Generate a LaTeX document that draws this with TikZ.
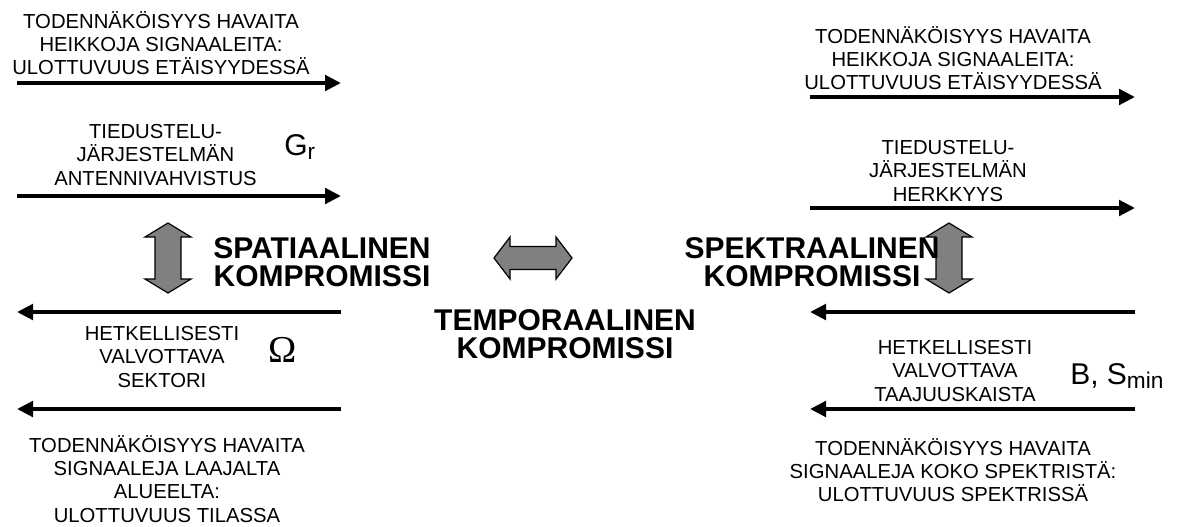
\documentclass[tikz,border=0pt]{standalone}
\usepackage{fontspec}
\setmainfont{Liberation Sans}
\newfontfamily\greekserif{Liberation Serif}
\usetikzlibrary{arrows.meta}
\begin{document}
\begin{tikzpicture}[x=0.75pt,y=-0.75pt,
  flow/.style={line width=3pt,-{Triangle[length=12pt,width=11.5pt]}},
  label/.style={inner sep=0pt,align=center,font=\fontsize{15.2}{17.4}\selectfont},
  title/.style={inner sep=0pt,align=center,font=\fontsize{22.5}{21}\selectfont\bfseries},
  symbol/.style={inner sep=0pt,anchor=base west,font=\fontsize{22.5}{24}\selectfont},
  tradeoff/.style={draw=black,line width=0.9pt,fill={rgb,255:red,128;green,128;blue,128},line join=miter}]
\useasboundingbox (0,0) rectangle (1178,526);

% ---- flow arrows ----
\coordinate (la1s) at (17,83);   \coordinate (la1e) at (341,83);
\coordinate (la2s) at (17,196);  \coordinate (la2e) at (341,196);
\coordinate (lb1s) at (341,312); \coordinate (lb1e) at (17,312);
\coordinate (lb2s) at (341,409); \coordinate (lb2e) at (17,409);
\coordinate (ra1s) at (810,97);  \coordinate (ra1e) at (1135,97);
\coordinate (ra2s) at (810,208); \coordinate (ra2e) at (1135,208);
\coordinate (rb1s) at (1135,312);\coordinate (rb1e) at (810,312);
\coordinate (rb2s) at (1135,409);\coordinate (rb2e) at (810,409);
\foreach \p in {la1,la2,lb1,lb2,ra1,ra2,rb1,rb2}
  \draw[flow] (\p s) -- (\p e);

% ---- grey trade-off arrows ----
% vertical, left
\draw[tradeoff] (168,223) -- (191,237) -- (181,237) -- (181,279) -- (191,279)
  -- (168,293) -- (145,279) -- (155,279) -- (155,237) -- (145,237) -- cycle;
% vertical, right
\draw[tradeoff] (949,223) -- (972,237) -- (962,237) -- (962,279) -- (972,279)
  -- (949,293) -- (926,279) -- (936,279) -- (936,237) -- (926,237) -- cycle;
% horizontal, middle
\draw[tradeoff] (494,258) -- (510,237) -- (510,246.5) -- (556,246.5) -- (556,237)
  -- (572,258) -- (556,279) -- (556,269.5) -- (510,269.5) -- (510,279) -- cycle;

% ---- texts ----
\node[label] (tl1) at (161,43) {TODENNÄKÖISYYS HAVAITA\\HEIKKOJA SIGNAALEITA:\\ULOTTUVUUS ETÄISYYDESSÄ};
\node[label] (tl2) at (155.5,155) {TIEDUSTELU-\\JÄRJESTELMÄN\\ANTENNIVAHVISTUS};
\node[symbol] (gr) at (284,155) {G\raisebox{-0.3ex}{\fontsize{17}{17}\selectfont r}};
\node[label] (tr1) at (953,58) {TODENNÄKÖISYYS HAVAITA\\HEIKKOJA SIGNAALEITA:\\ULOTTUVUUS ETÄISYYDESSÄ};
\node[label] (tr2) at (948,171) {TIEDUSTELU-\\JÄRJESTELMÄN\\HERKKYYS};

\node[title] (spat) at (322,262.5) {SPATIAALINEN\\KOMPROMISSI};
\node[title] (temp) at (565,334) {TEMPORAALINEN\\KOMPROMISSI};
\node[title] (spek) at (812,262.5) {SPEKTRAALINEN\\KOMPROMISSI};

\node[label] (bl1) at (162,357) {HETKELLISESTI\\VALVOTTAVA\\SEKTORI};
\node[inner sep=0pt,font=\fontsize{28.5}{30}\greekserif] (om) at (283,350) {Ω};
\node[label] (bl2) at (167,479) {TODENNÄKÖISYYS HAVAITA\\SIGNAALEJA LAAJALTA\\ALUEELTA:\\ULOTTUVUUS TILASSA};
\node[label] (br1) at (955,371) {HETKELLISESTI\\VALVOTTAVA\\TAAJUUSKAISTA};
\node[symbol] (bs) at (1070,384) {B, S\raisebox{-0.3ex}{\fontsize{17}{17}\selectfont min}};
\node[label] (br2) at (953,470) {TODENNÄKÖISYYS HAVAITA\\SIGNAALEJA KOKO SPEKTRISTÄ:\\ULOTTUVUUS SPEKTRISSÄ};
\end{tikzpicture}
\end{document}
